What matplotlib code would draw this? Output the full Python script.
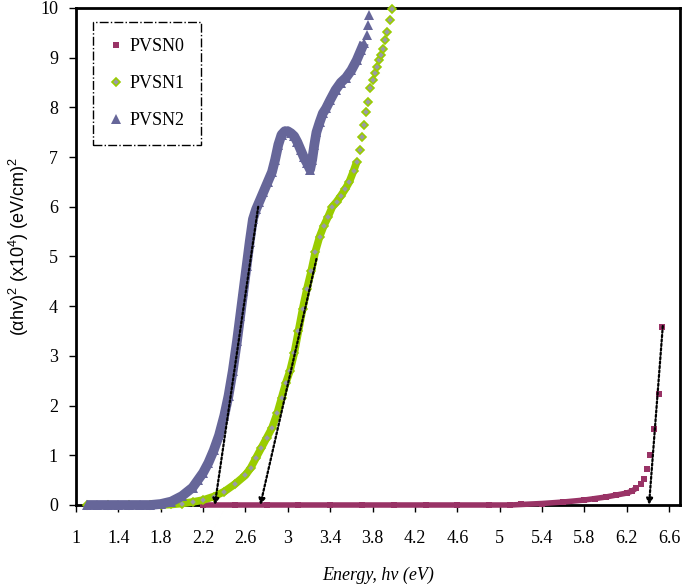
import matplotlib.pyplot as plt
from matplotlib.lines import Line2D

plt.rcParams['mathtext.fontset'] = 'custom'
plt.rcParams['mathtext.rm'] = 'Liberation Sans'
plt.rcParams['mathtext.it'] = 'Liberation Sans:italic'

# PVSN0
x0 = [2.20, 2.50, 2.80, 3.10, 3.40, 3.70, 4.00, 4.30, 4.60, 4.90, 5.10, 5.20, 5.40, 5.60,
      5.80, 5.90, 6.00, 6.10, 6.20, 6.25, 6.29, 6.33, 6.36, 6.39, 6.42, 6.46, 6.50, 6.53]
y0 = [0, 0, 0, 0, 0, 0, 0, 0, 0, 0, 0, 0.01, 0.03, 0.06,
      0.10, 0.13, 0.16, 0.20, 0.24, 0.28, 0.34, 0.42, 0.53, 0.72, 1.00, 1.53, 2.23, 3.58]

# PVSN1
x1 = [1.10, 1.30, 1.50, 1.70, 1.80, 1.90, 2.00, 2.10, 2.20, 2.30, 2.40, 2.50, 2.60, 2.65,
      2.70, 2.75, 2.80, 2.85, 2.90, 2.94, 2.98, 3.02, 3.06, 3.10, 3.14, 3.18, 3.22, 3.26,
      3.30, 3.34, 3.38, 3.42, 3.46, 3.50, 3.54, 3.58, 3.62, 3.65, 3.68, 3.70, 3.72, 3.74,
      3.76, 3.78, 3.80, 3.82, 3.84, 3.86, 3.88, 3.90, 3.92, 3.94, 3.96, 3.98]
y1 = [0, 0, 0, 0, 0, 0.01, 0.03, 0.06, 0.10, 0.17, 0.27, 0.42, 0.60, 0.75,
      0.95, 1.15, 1.35, 1.55, 1.85, 2.15, 2.45, 2.70, 3.05, 3.50, 3.95, 4.35, 4.70, 5.10,
      5.40, 5.62, 5.80, 6.00, 6.10, 6.22, 6.35, 6.50, 6.72, 6.90, 7.15, 7.40, 7.65, 7.90,
      8.10, 8.40, 8.55, 8.70, 8.82, 8.95, 9.05, 9.18, 9.35, 9.52, 9.75, 9.97]

# PVSN2
x2 = [1.10, 1.20, 1.30, 1.40, 1.50, 1.60, 1.70, 1.80, 1.90, 2.00, 2.10, 2.15, 2.20, 2.25,
      2.30, 2.35, 2.40, 2.44, 2.48, 2.52, 2.55, 2.58, 2.61, 2.64, 2.67, 2.70, 2.73, 2.77,
      2.81, 2.85, 2.88, 2.91, 2.94, 2.97, 3.00, 3.03, 3.06, 3.09, 3.12, 3.15, 3.18, 3.21,
      3.23, 3.25, 3.27, 3.30, 3.33, 3.36, 3.40, 3.45, 3.50, 3.55, 3.60, 3.65, 3.69, 3.72,
      3.75, 3.76, 3.77]
y2 = [0, 0, 0, 0, 0, 0, 0, 0.02, 0.07, 0.18, 0.35, 0.50, 0.65, 0.85,
      1.10, 1.40, 1.80, 2.20, 2.70, 3.30, 3.80, 4.30, 4.80, 5.30, 5.75, 5.95, 6.10, 6.30,
      6.50, 6.70, 6.95, 7.25, 7.45, 7.52, 7.52, 7.48, 7.42, 7.30, 7.15, 7.00, 6.88, 6.75,
      6.95, 7.25, 7.50, 7.70, 7.88, 7.98, 8.15, 8.35, 8.50, 8.60, 8.75, 8.95, 9.15, 9.30,
      9.45, 9.66, 9.86]

# tangent lines (top point -> intercept on energy axis)
tangents = [((2.72, 6.00), (2.31, 0)),
            ((3.27, 4.95), (2.74, 0)),
            ((6.54, 3.60), (6.41, 0))]

labels = ['PVSN0', 'PVSN1', 'PVSN2']
colors = ['#993366', '#99cc00', '#666699']

fig = plt.figure(figsize=(6.88, 5.87), dpi=100)
ax = fig.add_axes([0.1105, 0.1397, 0.8775, 0.8467])

# dense part drawn as a band, then the markers on top
ax.plot(x0[:21], y0[:21], '-', color=colors[0], lw=4, solid_capstyle='butt', zorder=3, clip_on=False)
ax.plot(x0, y0, 's', color=colors[0], ms=4.5, mew=0, zorder=3, clip_on=False)

ax.plot(x1[:38], y1[:38], '-', color=colors[1], lw=5.5, solid_capstyle='butt', zorder=3, clip_on=False)
ax.plot(x1, y1, 'D', mfc='#9a9aa8', mec=colors[1], mew=1.2, ms=4.5, zorder=3, clip_on=False)

ax.plot(x2[:56], y2[:56], '-', color=colors[2], lw=7, solid_capstyle='butt', zorder=4, clip_on=False)
ax.plot(x2, y2, '^', color=colors[2], ms=7, mew=0, zorder=4, clip_on=False)

for (xa, ya), (xb, yb) in tangents:
    ax.annotate('', xy=(xb, yb), xytext=(xa, ya),
                arrowprops=dict(arrowstyle='-|>', color='black', lw=1.6,
                                linestyle=(0, (1, 1)), mutation_scale=9,
                                shrinkA=0, shrinkB=0),
                zorder=6)

ax.set_xlim(1, 6.7)
ax.set_ylim(0, 10)
ax.set_xticks([1 + 0.4 * i for i in range(15)])
ax.set_xticklabels(['1', '1.4', '1.8', '2.2', '2.6', '3', '3.4', '3.8', '4.2', '4.6',
                    '5', '5.4', '5.8', '6.2', '6.6'])
ax.set_yticks(range(11))
ax.tick_params(direction='out', length=5, width=1, pad=8, labelsize=13)
for lab in ax.get_xticklabels() + ax.get_yticklabels():
    lab.set_family('Liberation Serif')
ax.tick_params(axis='x', pad=13)
for s in ax.spines.values():
    s.set_linewidth(2)

ax.set_xlabel('Energy, hv (eV)', family='Liberation Serif', style='italic',
              fontsize=13, labelpad=14)
ax.set_ylabel('(αhv)$^{2}$ (x10$^{4}$) (eV/cm)$^{2}$', family='Liberation Sans',
              fontsize=13)
ax.yaxis.set_label_coords(-0.075, 0.52)

handles = [Line2D([], [], ls='none', marker='s', color=colors[0], ms=4.5, mew=0),
           Line2D([], [], ls='none', marker='D', mfc='#9a9aa8', mec=colors[1], mew=1.2, ms=4.5),
           Line2D([], [], ls='none', marker='^', color=colors[2], ms=7, mew=0)]
leg = ax.legend(handles, labels, loc='upper left', bbox_to_anchor=(0.028, 0.972),
                borderaxespad=0, prop={'family': 'Liberation Serif', 'size': 13},
                fancybox=False, handlelength=0.8, handletextpad=0.35,
                labelspacing=1.1, borderpad=0.9, framealpha=1)
leg.get_frame().set_edgecolor('black')
leg.get_frame().set_linestyle('-.')
leg.get_frame().set_linewidth(1)

fig.savefig('out.png', dpi=100)
